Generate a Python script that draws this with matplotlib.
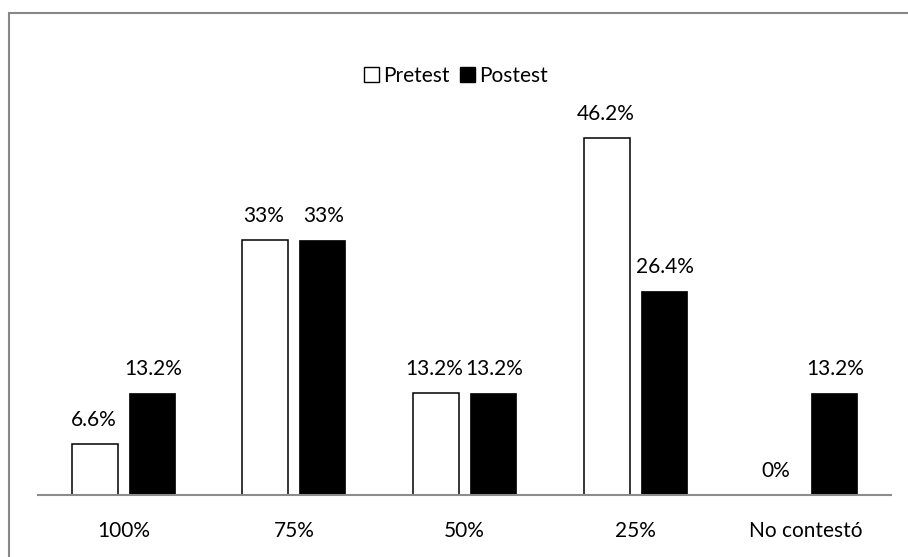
import matplotlib.pyplot as plt
from matplotlib.patches import Patch, Rectangle
import numpy as np

categories = ["100%", "75%", "50%", "25%", "No contestó"]
pretest = [6.6, 33, 13.2, 46.2, 0]
postest = [13.2, 33, 13.2, 26.4, 13.2]
pre_labels = ["6.6%", "33%", "13.2%", "46.2%", "0%"]
post_labels = ["13.2%", "33%", "13.2%", "26.4%", "13.2%"]

plt.rcParams['font.family'] = ['Lato', 'DejaVu Sans']
fs = 15

fig = plt.figure(figsize=(9.08, 5.57), dpi=100)
ax = fig.add_axes([0.0419, 0.1113, 0.9394, 0.693])

x = np.arange(len(categories))
w = 0.27
off = 0.167

ax.bar(x - off, pretest, w, color="white", edgecolor="black", linewidth=1.1)
ax.bar(x + off, postest, w, color="black", edgecolor="black", linewidth=0.5)

for xi, v, t in zip(x, pretest, pre_labels):
    ax.annotate(t, (xi - off, v), xytext=(-1, 13), textcoords="offset points",
                ha="center", va="baseline", fontsize=fs)
for xi, v, t in zip(x, postest, post_labels):
    ax.annotate(t, (xi + off, v), xytext=(1, 13), textcoords="offset points",
                ha="center", va="baseline", fontsize=fs)

ax.set_xlim(-0.5, 4.5)
ax.set_ylim(0, 50)
for s in ["top", "right", "left"]:
    ax.spines[s].set_visible(False)
ax.spines["bottom"].set_color("#8c8c8c")
ax.spines["bottom"].set_linewidth(1.5)
ax.set_yticks([])
ax.set_xticks(x)
ax.set_xticklabels(categories, fontsize=fs)
ax.tick_params(axis="x", length=0, pad=19)

handles = [Patch(facecolor="white", edgecolor="black", linewidth=1),
           Patch(facecolor="black", edgecolor="black")]
fig.legend(handles, ["Pretest", "Postest"], loc="center",
           bbox_to_anchor=(456 / 908, 1 - 76 / 557), ncol=2, frameon=False,
           fontsize=fs, handlelength=0.7, handleheight=0.7,
           handletextpad=0.2, columnspacing=0.5)

# outer frame of the chart area
fig.patches.append(Rectangle((8.5 / 908, -0.1), 1.2, 1.1 - 12.5 / 557,
                             transform=fig.transFigure, fill=False,
                             edgecolor="#888888", linewidth=1.5))

fig.savefig("out.png", dpi=100)
